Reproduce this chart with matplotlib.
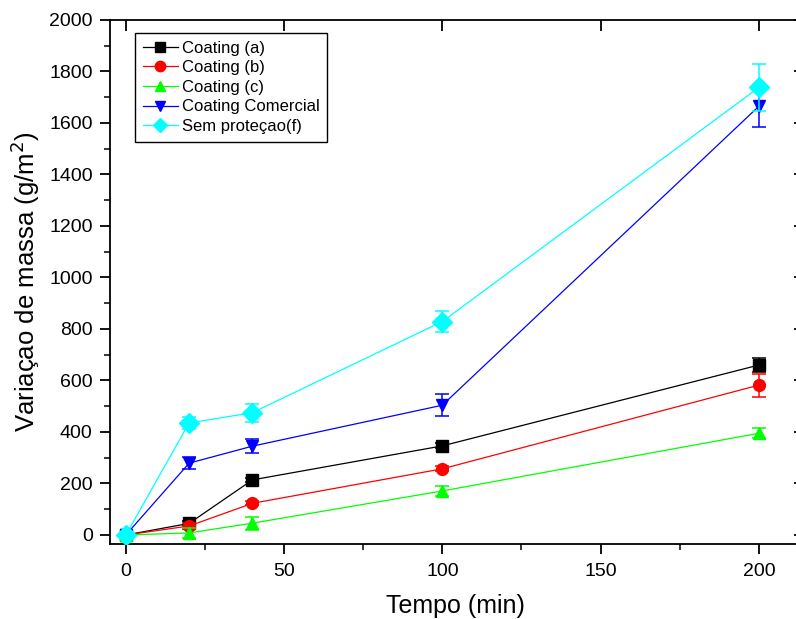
import numpy as np
import matplotlib
matplotlib.use("Agg")
import matplotlib.pyplot as plt
from matplotlib.ticker import MultipleLocator

plt.rcParams['font.family'] = ['Liberation Sans', 'DejaVu Sans']

# tempo (min)
tempo = [0, 20, 40, 100, 200]

# variacao de massa (g/m2) and error bars
coating_a = [0, 45, 214, 346, 660]
coating_a_err = [8, 8, 8, 10, 28]
coating_b = [0, 35, 123, 257, 582]
coating_b_err = [8, 12, 8, 10, 45]
coating_c = [0, 8, 46, 171, 395]
coating_c_err = [8, 20, 25, 20, 20]
coating_com = [0, 279, 345, 504, 1665]
coating_com_err = [8, 22, 28, 43, 80]
sem_protecao = [0, 435, 475, 829, 1738]
sem_protecao_err = [8, 25, 35, 41, 90]

labels = ["Coating (a)", "Coating (b)", "Coating (c)",
          "Coating Comercial", "Sem proteçao(f)"]
series = [coating_a, coating_b, coating_c, coating_com, sem_protecao]
errors = [coating_a_err, coating_b_err, coating_c_err,
          coating_com_err, sem_protecao_err]
colors = ["#000000", "#ff0000", "#00ff00", "#0000ff", "#00ffff"]
markers = ["s", "o", "^", "v", "D"]
msizes = [8, 8.5, 9, 9, 10]

fig = plt.figure(figsize=(7.96, 6.19), dpi=100)
ax = fig.add_axes([110 / 796, 1 - 544 / 619, 690 / 796, 524 / 619])

handles = []
for i in range(len(series)):
  cont = ax.errorbar(tempo, series[i], yerr=errors[i], color=colors[i],
                     marker=markers[i], markersize=msizes[i], linewidth=0.9,
                     elinewidth=1.1, capsize=5, capthick=1.1,
                     label=labels[i], zorder=3 + i)
  handles.append(cont.lines[0])

ax.set_xlim(-5, 213)
ax.set_ylim(-35, 2000)

ax.xaxis.set_major_locator(MultipleLocator(50))
ax.xaxis.set_minor_locator(MultipleLocator(25))
ax.yaxis.set_major_locator(MultipleLocator(200))
ax.yaxis.set_minor_locator(MultipleLocator(100))

for s in ax.spines.values():
  s.set_linewidth(1.3)

ax.tick_params(axis='both', which='major', direction='out', length=7.5,
               width=1.3, labelsize=14, pad=5)
ax.tick_params(axis='x', which='major', pad=6)
ax.tick_params(axis='both', which='minor', direction='out', length=4,
               width=1.1)

# inward ticks on top and right sides (Origin style)
ax_top = ax.secondary_xaxis('top')
ax_top.set_xticks([0, 50, 100, 150, 200])
ax_top.tick_params(direction='in', length=8, width=1.3, labeltop=False)
ax_top.spines['top'].set_visible(False)
ax_right = ax.secondary_yaxis('right')
ax_right.set_yticks(np.arange(0, 2001, 200))
ax_right.tick_params(direction='in', length=4, width=1.3, labelright=False)
ax_right.spines['right'].set_visible(False)

ax.set_xlabel("Tempo (min)", fontsize=18, labelpad=10)
ax.set_ylabel("Variaçao de massa (g/m$^2$)", fontsize=18.5, labelpad=5)

leg = ax.legend(handles=handles, labels=labels, loc='upper left',
                bbox_to_anchor=(135 / 796, 1 - 33 / 619),
                bbox_transform=fig.transFigure, fontsize=12,
                fancybox=False, framealpha=1, edgecolor='black',
                borderaxespad=0, handlelength=2.1, handletextpad=0.25,
                labelspacing=0.28, borderpad=0.45, numpoints=1)
leg.get_frame().set_linewidth(1.0)
for h in leg.legend_handles:
  h.set_markersize(7.5)

fig.savefig("out.png", dpi=100)
